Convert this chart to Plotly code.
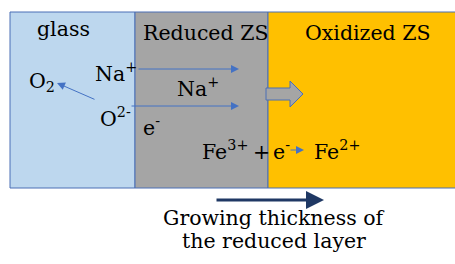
import plotly.graph_objects as go

# Layers of the diagram (left to right) and their boundaries
layer_names = ["glass", "Reduced ZS", "Oxidized ZS"]
layer_edges = [10, 135, 268, 458]
layer_colors = ["#BDD7EE", "#A5A5A5", "#FFC000"]
layer_top, layer_bottom = 12, 188

# Text labels: (text, x, y)
labels = [
    ("glass", 63, 29),
    ("Reduced ZS", 205, 33),
    ("Oxidized ZS", 367, 33),
    ("O<sub>2</sub>", 42, 82),
    ("Na<sup>+</sup>", 116, 72),
    ("O<sup>2-</sup>", 115, 117),
    ("Na<sup>+</sup>", 198, 87),
    ("e<sup>-</sup>", 151, 126),
    ("Fe<sup>3+</sup>", 225, 150),
    ("+", 261, 152),
    ("e<sup>-</sup>", 281, 150),
    ("Fe<sup>2+</sup>", 337, 150),
    ("Growing thickness of", 274, 218),
    ("the reduced layer", 274, 241),
]

# Thin arrows: (x_from, y_from, x_to, y_to)
thin_arrows = [
    (96, 100, 57, 83),
    (137, 69, 239, 69),
    (130, 106, 239, 106),
    (289, 150, 304, 150),
]

W, H = 455, 264

fig = go.Figure()
font = dict(family="DejaVu Serif", size=20.5, color="black")

for name, x0, x1, c in zip(layer_names, layer_edges[:-1], layer_edges[1:], layer_colors):
    fig.add_shape(type="rect", x0=x0, x1=x1, y0=layer_top, y1=layer_bottom,
                  fillcolor=c, line=dict(color="#4A6FB5", width=1), layer="below")

# Block arrow (gray with blue outline)
fig.add_shape(type="path",
              path="M 266 88 L 290 88 L 290 81 L 303 94 L 290 107 L 290 100 L 266 100 Z",
              fillcolor="#A5A5A5", line=dict(color="#4A6FB5", width=1))

for t, x, y in labels:
    fig.add_annotation(x=x, y=y, text=t, showarrow=False, font=font,
                       xanchor="center", yanchor="middle")

for x0, y0, x1, y1 in thin_arrows:
    fig.add_annotation(x=x1, y=y1, ax=x0, ay=y0, xref="x", yref="y", axref="x", ayref="y",
                       text="", showarrow=True, arrowhead=2, arrowsize=1.6, arrowwidth=1,
                       arrowcolor="#4472C4", standoff=0)

# Bottom navy arrow
fig.add_annotation(x=324, y=200, ax=215, ay=200, xref="x", yref="y", axref="x", ayref="y",
                   text="", showarrow=True, arrowhead=2, arrowsize=1.2, arrowwidth=3,
                   arrowcolor="#1F3864", standoff=0)

fig.update_xaxes(range=[0, W], visible=False, fixedrange=True)
fig.update_yaxes(range=[H, 0], visible=False, fixedrange=True)
fig.update_layout(width=W, height=H, margin=dict(l=0, r=0, t=0, b=0),
                  plot_bgcolor="white", paper_bgcolor="white", showlegend=False)

fig.write_html("out.html", config={"displayModeBar": False, "staticPlot": True},
               post_script="document.body.style.margin='0';document.body.style.overflow='hidden';")
